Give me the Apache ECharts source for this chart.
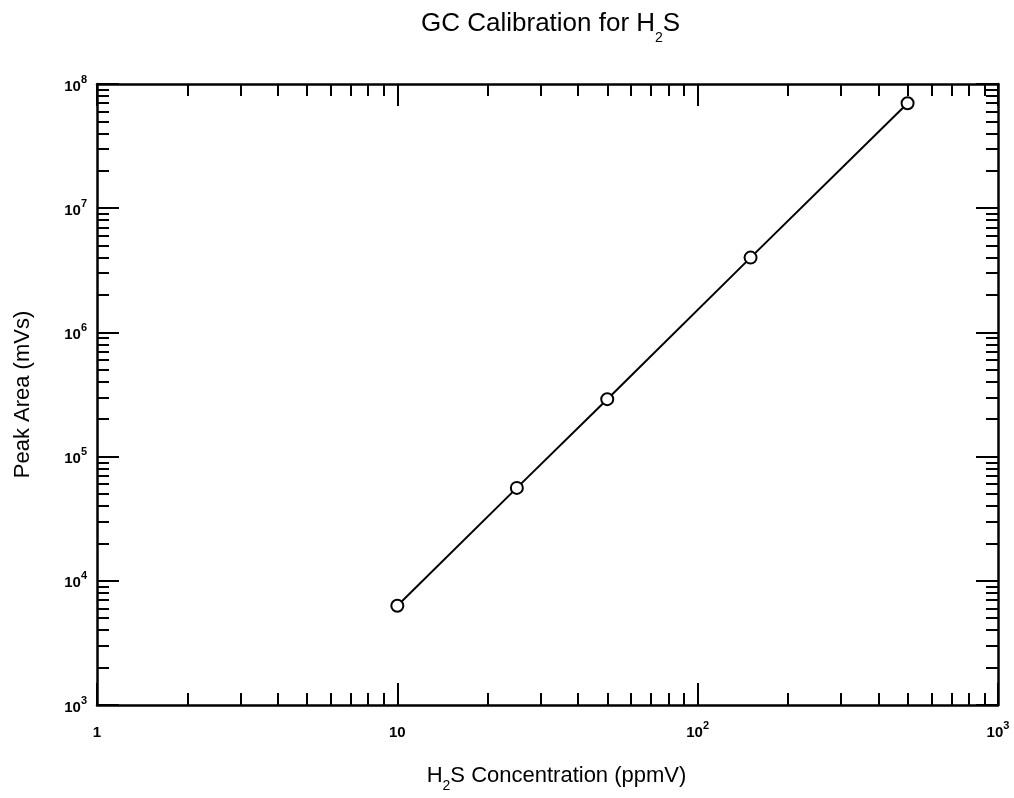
<!DOCTYPE html>
<html>
<head>
<meta charset="utf-8">
<script src="https://cdn.jsdelivr.net/npm/echarts@6/dist/echarts.min.js"></script>
<style>
  html, body { margin: 0; padding: 0; background: #fff; }
  #main { width: 1014px; height: 798px; }
</style>
</head>
<body>
<div id="main"></div>
<script>
// data
var concentration = [10, 25, 50, 150, 500];          // ppmV
var peakArea = [6300, 56000, 290000, 4000000, 70000000]; // mVs

// minor tick positions (log10 units), 2..9 in every decade
var minorX = [];
var minorY = [];
for (var d = 0; d < 3; d++) {
	for (var k = 2; k <= 9; k++) minorX.push(d + Math.log10(k));
}
for (var d2 = 3; d2 < 8; d2++) {
	for (var k2 = 2; k2 <= 9; k2++) minorY.push(d2 + Math.log10(k2));
}

var font = 'Liberation Sans, Arial, Helvetica, sans-serif';

var labelRich = {
	b: { fontSize: 15, fontWeight: 'bold', fontFamily: font, color: '#000', lineHeight: 20, verticalAlign: 'bottom' },
	s: { fontSize: 11, fontWeight: 'bold', fontFamily: font, color: '#000', lineHeight: 12, verticalAlign: 'top' }
};

var nameRich = {
	t: { fontSize: 22, fontWeight: 'normal', fontFamily: font, color: '#000', lineHeight: 28, verticalAlign: 'top' },
	sub: { fontSize: 14, fontWeight: 'normal', fontFamily: font, color: '#000', lineHeight: 16, verticalAlign: 'top', padding: [14, 0, 0, 0] }
};

function expLabel(v) {
	var e = Math.round(Math.log10(v));
	return '{b|10}{s|' + e + '}';
}
function xLabel(v) {
	var e = Math.round(Math.log10(v));
	if (e === 0) return '{b|1}';
	if (e === 1) return '{b|10}';
	return '{b|10}{s|' + e + '}';
}

var majorLine = { show: true, onZero: false, lineStyle: { color: '#000', width: 2.5 } };
var majorTick = { show: true, inside: true, length: 22, lineStyle: { color: '#000', width: 2 } };
var minorTick = function(vals) {
	return { show: true, inside: true, length: 12, customValues: vals, lineStyle: { color: '#000', width: 2 } };
};

var myChart = echarts.init(document.getElementById('main'));
var options = {
	backgroundColor: '#fff',
	animation: false,
	title: {
		text: '{t|GC Calibration for H}{sub|2}{t|S}',
		left: 416,
		top: 6,
		textStyle: {
			rich: {
				t: { fontSize: 26, fontWeight: 'normal', fontFamily: font, color: '#000', lineHeight: 30, verticalAlign: 'top' },
				sub: { fontSize: 14, fontWeight: 'normal', fontFamily: font, color: '#000', lineHeight: 26, verticalAlign: 'top', padding: [20, 0, 0, 0] }
			}
		}
	},
	grid: { left: 97, right: 16, top: 84, bottom: 89 },
	xAxis: [{
		type: 'log',
		logBase: 10,
		min: 1,
		max: 1000,
		position: 'bottom',
		axisLine: majorLine,
		axisTick: majorTick,
		splitLine: { show: false },
		axisLabel: { margin: 15, formatter: xLabel, rich: labelRich },
		name: '{t|H}{sub|2}{t|S Concentration (ppmV)}',
		nameLocation: 'middle',
		nameGap: 60,
		nameTextStyle: { rich: nameRich, padding: [0, 0, 0, 18] }
	}, {
		type: 'log',
		logBase: 10,
		min: 1,
		max: 1000,
		position: 'top',
		axisLine: majorLine,
		axisTick: majorTick,
		axisLabel: { show: false },
		splitLine: { show: false }
	}, {
		type: 'value',
		min: 0,
		max: 3,
		position: 'bottom',
		axisLine: { show: false, onZero: false },
		axisTick: minorTick(minorX),
		axisLabel: { show: false },
		splitLine: { show: false }
	}, {
		type: 'value',
		min: 0,
		max: 3,
		position: 'top',
		axisLine: { show: false, onZero: false },
		axisTick: minorTick(minorX),
		axisLabel: { show: false },
		splitLine: { show: false }
	}],
	yAxis: [{
		type: 'log',
		logBase: 10,
		min: 1000,
		max: 100000000,
		position: 'left',
		axisLine: majorLine,
		axisTick: majorTick,
		splitLine: { show: false },
		axisLabel: { margin: 10, formatter: expLabel, rich: labelRich },
		name: 'Peak Area (mVs)',
		nameLocation: 'middle',
		nameGap: 63,
		nameTextStyle: { fontSize: 22, fontFamily: font, color: '#000' }
	}, {
		type: 'log',
		logBase: 10,
		min: 1000,
		max: 100000000,
		position: 'right',
		axisLine: majorLine,
		axisTick: majorTick,
		axisLabel: { show: false },
		splitLine: { show: false }
	}, {
		type: 'value',
		min: 3,
		max: 8,
		position: 'left',
		axisLine: { show: false, onZero: false },
		axisTick: minorTick(minorY),
		axisLabel: { show: false },
		splitLine: { show: false }
	}, {
		type: 'value',
		min: 3,
		max: 8,
		position: 'right',
		axisLine: { show: false, onZero: false },
		axisTick: minorTick(minorY),
		axisLabel: { show: false },
		splitLine: { show: false }
	}]
};

var seriesData = [];
for (var i = 0; i < concentration.length; i++) {
	seriesData.push([concentration[i], peakArea[i]]);
}
options.series = [{
	name: 'H2S',
	type: 'line',
	xAxisIndex: 0,
	yAxisIndex: 0,
	data: seriesData,
	symbol: 'circle',
	symbolSize: 12,
	showAllSymbol: true,
	lineStyle: { color: '#000', width: 2 },
	itemStyle: { color: '#fff', borderColor: '#000', borderWidth: 2 }
}];

myChart.setOption(options, true);
</script>
</body>
</html>
